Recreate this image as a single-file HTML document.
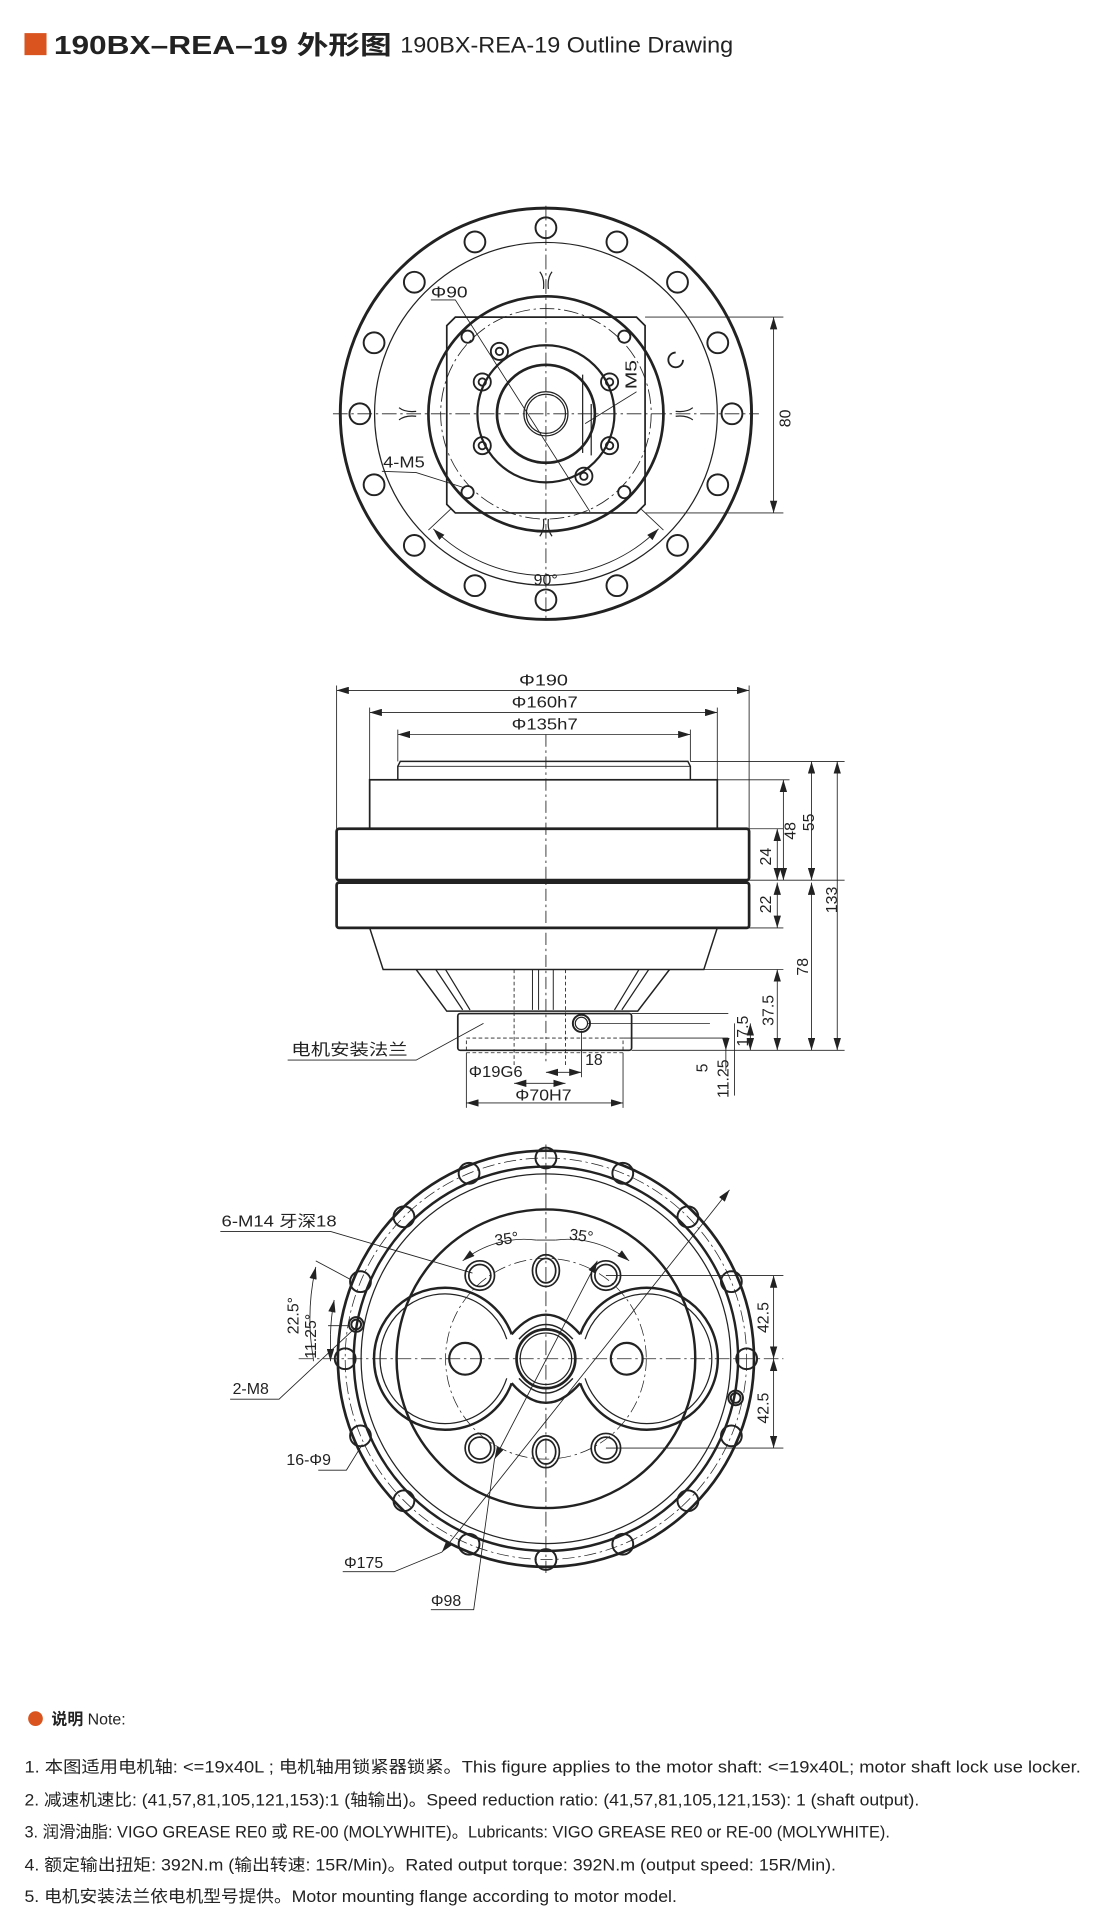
<!DOCTYPE html>
<html><head><meta charset="utf-8"><style>
html,body{margin:0;padding:0;background:#fff}
svg{display:block}
text{font-family:"Liberation Sans","Noto Sans CJK SC",sans-serif;fill:#222}
</style></head><body>
<svg width="1120" height="1928" viewBox="0 0 915 1575" xmlns="http://www.w3.org/2000/svg">
<defs>
<marker id="a" viewBox="0 0 10 6" refX="10" refY="3" markerWidth="10" markerHeight="6" orient="auto-start-reverse" markerUnits="userSpaceOnUse"><path d="M0,0 L10,3 L0,6 z" fill="#222"/></marker>
</defs>
<!-- Title -->
<rect x="20" y="27" width="18" height="18" fill="#d9541e"/>
<text x="44" y="44" font-size="21" font-weight="bold" textLength="276" lengthAdjust="spacingAndGlyphs">190BX–REA–19 外形图</text>
<text x="327" y="43" font-size="18" textLength="272" lengthAdjust="spacingAndGlyphs">190BX-REA-19 Outline Drawing</text>

<g fill="none" stroke="#222" stroke-width="1">
<!-- ============ TOP VIEW ============ -->
<line x1="446" y1="168" x2="446" y2="508" stroke-dasharray="12,3,2,3" stroke-width="0.7"/>
<line x1="272" y1="338" x2="620" y2="338" stroke-dasharray="12,3,2,3" stroke-width="0.7"/>
<circle cx="446" cy="338" r="168" stroke-width="2.4"/>
<circle cx="446" cy="338" r="140"/>
<circle cx="446" cy="338" r="96" stroke-width="2.2"/>
<circle cx="446" cy="338" r="86" stroke-dasharray="12,3,2,3" stroke-width="0.7"/>
<g stroke-width="1.6">
<circle cx="446" cy="186" r="8.5"/><circle cx="504" cy="197.6" r="8.5"/><circle cx="553.5" cy="230.5" r="8.5"/><circle cx="586.4" cy="280" r="8.5"/>
<circle cx="598" cy="338" r="8.5"/><circle cx="586.4" cy="396" r="8.5"/><circle cx="553.5" cy="445.5" r="8.5"/><circle cx="504" cy="478.4" r="8.5"/>
<circle cx="446" cy="490" r="8.5"/><circle cx="388" cy="478.4" r="8.5"/><circle cx="338.5" cy="445.5" r="8.5"/><circle cx="305.6" cy="396" r="8.5"/>
<circle cx="294" cy="338" r="8.5"/><circle cx="305.6" cy="280" r="8.5"/><circle cx="338.5" cy="230.5" r="8.5"/><circle cx="388" cy="197.6" r="8.5"/>
</g>
<path d="M372,259 L520,259 L527,266 L527,412 L520,419 L372,419 L365,412 L365,266 Z" stroke-width="1.4"/>
<circle cx="446" cy="338" r="56" stroke-width="1.8"/>
<circle cx="446" cy="338" r="40" stroke-width="2.2"/>
<circle cx="446" cy="338" r="18"/><circle cx="446" cy="338" r="16"/>
<line x1="476" y1="306" x2="476" y2="370"/><line x1="483" y1="330" x2="483" y2="372"/>
<g stroke-width="1.5">
<circle cx="408" cy="287" r="7"/><circle cx="408" cy="287" r="3"/>
<circle cx="394" cy="312" r="7"/><circle cx="394" cy="312" r="3"/>
<circle cx="498" cy="312" r="7"/><circle cx="498" cy="312" r="3"/>
<circle cx="394" cy="364" r="7"/><circle cx="394" cy="364" r="3"/>
<circle cx="498" cy="364" r="7"/><circle cx="498" cy="364" r="3"/>
<circle cx="477" cy="389" r="7"/><circle cx="477" cy="389" r="3"/>
<circle cx="382" cy="275" r="5"/><circle cx="510" cy="275" r="5"/><circle cx="382" cy="402" r="5"/><circle cx="510" cy="402" r="5"/>
</g>
<path d="M552,288 a6,6 0 1 0 6,6" stroke-width="1.5"/>
<!-- cross marks -->
<path d="M441,222 q4,5 3,14 M451,222 q-4,5 -3,14 M441,438 q4,-5 3,-14 M451,438 q-4,-5 -3,-14 M326,333 q5,4 14,3 M326,343 q5,-4 14,-3 M566,333 q-5,4 -14,3 M566,343 q-5,-4 -14,-3"/>
<!-- leaders -->
<path d="M352,245 L372,245 L482,418" stroke-width="0.7"/>
<path d="M478,346 L520,320" stroke-width="0.7"/>
<path d="M312,385 L340,386 L378,398" stroke-width="0.7"/>
<!-- 80 dim -->
<line x1="527" y1="259" x2="640" y2="259" stroke-width="0.7"/><line x1="527" y1="419" x2="640" y2="419" stroke-width="0.7"/>
<line x1="632" y1="259" x2="632" y2="419" stroke-width="0.7" marker-start="url(#a)" marker-end="url(#a)"/>
<!-- 90 deg arc -->
<path d="M354,432 A130,130 0 0 0 538,432" stroke-width="0.7" marker-start="url(#a)" marker-end="url(#a)"/>
<line x1="350" y1="433" x2="368" y2="416" stroke-width="0.7"/><line x1="542" y1="433" x2="524" y2="416" stroke-width="0.7"/>

<!-- ============ SIDE VIEW ============ -->
<line x1="446" y1="600" x2="446" y2="870" stroke-dasharray="10,3,2,3" stroke-width="0.7"/>
<path d="M327,622 L562,622 L564,626 L564,637 L325,637 L325,626 Z" stroke-width="1.2"/>
<line x1="325" y1="626" x2="564" y2="626" stroke-width="0.7"/>
<rect x="302" y="637" width="284" height="40" stroke-width="1.4"/>
<rect x="275" y="677" width="337" height="42" rx="2" stroke-width="2.2"/>
<rect x="275" y="721" width="337" height="37" rx="2" stroke-width="2.2"/>
<path d="M302,758 L313,792 L575,792 L586,758" stroke-width="1.2"/>
<path d="M340,792 L365,826 L521,826 L547,792" stroke-width="1.2"/>
<path d="M356,792 L378,825 M364,792 L384,825 M530,792 L508,825 M522,792 L502,825" stroke-width="1"/>
<path d="M435,792 L435,825 M440,792 L440,825 M452,792 L452,825" stroke-width="0.8"/>
<line x1="420" y1="792" x2="420" y2="870" stroke-dasharray="3,2" stroke-width="0.7"/>
<line x1="462" y1="792" x2="462" y2="870" stroke-dasharray="3,2" stroke-width="0.7"/>
<rect x="374" y="828" width="142" height="30" rx="2" stroke-width="1.4"/>
<rect x="381" y="848" width="128" height="12" stroke-dasharray="3,2" stroke-width="0.7"/>
<circle cx="475" cy="836" r="7" stroke-width="1.6"/><circle cx="475" cy="836" r="5"/>
<!-- diameter dims -->
<line x1="275" y1="560" x2="275" y2="677" stroke-width="0.7"/><line x1="612" y1="560" x2="612" y2="677" stroke-width="0.7"/>
<line x1="275" y1="564" x2="612" y2="564" stroke-width="0.7" marker-start="url(#a)" marker-end="url(#a)"/>
<line x1="302" y1="578" x2="302" y2="637" stroke-width="0.7"/><line x1="586" y1="578" x2="586" y2="637" stroke-width="0.7"/>
<line x1="302" y1="582" x2="586" y2="582" stroke-width="0.7" marker-start="url(#a)" marker-end="url(#a)"/>
<line x1="325" y1="596" x2="325" y2="622" stroke-width="0.7"/><line x1="564" y1="596" x2="564" y2="622" stroke-width="0.7"/>
<line x1="325" y1="600" x2="564" y2="600" stroke-width="0.7" marker-start="url(#a)" marker-end="url(#a)"/>
<!-- right vertical dims -->
<g stroke-width="0.7">
<line x1="564" y1="622" x2="690" y2="622"/><line x1="586" y1="637" x2="645" y2="637"/>
<line x1="612" y1="677" x2="640" y2="677"/><line x1="612" y1="719" x2="690" y2="719"/>
<line x1="612" y1="758" x2="640" y2="758"/><line x1="575" y1="792" x2="640" y2="792"/>
<line x1="516" y1="828" x2="595" y2="828"/><line x1="480" y1="836" x2="580" y2="836"/>
<line x1="509" y1="848" x2="595" y2="848"/><line x1="516" y1="858" x2="690" y2="858"/>
<line x1="640" y1="637" x2="640" y2="719" marker-start="url(#a)" marker-end="url(#a)"/>
<line x1="663" y1="622" x2="663" y2="719" marker-start="url(#a)" marker-end="url(#a)"/>
<line x1="684" y1="622" x2="684" y2="858" marker-start="url(#a)" marker-end="url(#a)"/>
<line x1="635" y1="677" x2="635" y2="719" marker-start="url(#a)" marker-end="url(#a)"/>
<line x1="635" y1="721" x2="635" y2="758" marker-start="url(#a)" marker-end="url(#a)"/>
<line x1="663" y1="721" x2="663" y2="858" marker-start="url(#a)" marker-end="url(#a)"/>
<line x1="635" y1="792" x2="635" y2="858" marker-start="url(#a)" marker-end="url(#a)"/>
<line x1="613" y1="836" x2="613" y2="858" marker-start="url(#a)" marker-end="url(#a)"/>
<line x1="593" y1="848" x2="593" y2="858" marker-end="url(#a)"/><line x1="593" y1="858" x2="593" y2="875"/>
<line x1="600" y1="836" x2="600" y2="895"/>
<line x1="446" y1="876" x2="475" y2="876" marker-start="url(#a)" marker-end="url(#a)"/>
<line x1="475" y1="842" x2="475" y2="880"/>
<line x1="420" y1="885" x2="462" y2="885" marker-start="url(#a)" marker-end="url(#a)"/>
<line x1="381" y1="860" x2="381" y2="905"/><line x1="509" y1="860" x2="509" y2="905"/>
<line x1="381" y1="901" x2="509" y2="901" marker-start="url(#a)" marker-end="url(#a)"/>
<path d="M235,866 L340,866 L395,836"/>
</g>

<!-- ============ BOTTOM VIEW ============ -->
<line x1="446" y1="935" x2="446" y2="1285" stroke-dasharray="12,3,2,3" stroke-width="0.7"/>
<line x1="244" y1="1110" x2="640" y2="1110" stroke-dasharray="12,3,2,3" stroke-width="0.7"/>
<circle cx="446" cy="1110" r="170" stroke-width="2.2"/>
<circle cx="446" cy="1110" r="157" stroke-width="2"/>
<circle cx="446" cy="1110" r="151"/>
<circle cx="446" cy="1110" r="122" stroke-width="2"/>
<circle cx="446" cy="1110" r="164" stroke-dasharray="10,3,2,3" stroke-width="0.6"/>
<circle cx="446" cy="1110" r="82" stroke-dasharray="10,3,2,3" stroke-width="0.6"/>
<g stroke-width="1.6">
<circle cx="446" cy="946" r="8.5"/><circle cx="508.8" cy="958.5" r="8.5"/><circle cx="562" cy="994" r="8.5"/><circle cx="597.5" cy="1047" r="8.5"/>
<circle cx="610" cy="1110" r="8.5"/><circle cx="597.5" cy="1173" r="8.5"/><circle cx="562" cy="1226" r="8.5"/><circle cx="508.8" cy="1261.5" r="8.5"/>
<circle cx="446" cy="1274" r="8.5"/><circle cx="383.2" cy="1261.5" r="8.5"/><circle cx="330" cy="1226" r="8.5"/><circle cx="294.5" cy="1173" r="8.5"/>
<circle cx="282" cy="1110" r="8.5"/><circle cx="294.5" cy="1047" r="8.5"/><circle cx="330" cy="994" r="8.5"/><circle cx="383.2" cy="958.5" r="8.5"/>
<circle cx="291" cy="1082" r="6"/><circle cx="291" cy="1082" r="4"/>
<circle cx="601" cy="1142" r="6"/><circle cx="601" cy="1142" r="4"/>
</g>
<!-- lobes -->
<path d="M418,1090 A58,58 0 1 0 418,1130" stroke-width="2"/>
<path d="M474,1090 A58,58 0 1 1 474,1130" stroke-width="2"/>
<path d="M414,1094 A53,53 0 1 0 414,1126" stroke-width="1"/>
<path d="M478,1094 A53,53 0 1 1 478,1126" stroke-width="1"/>
<path d="M418,1090 Q446,1058 474,1090" stroke-width="2"/><path d="M418,1130 Q446,1162 474,1130" stroke-width="2"/>
<path d="M424,1094 Q446,1070 468,1094" stroke-width="1.2"/><path d="M424,1126 Q446,1150 468,1126" stroke-width="1.2"/>
<circle cx="446" cy="1110" r="24" stroke-width="2.2"/><circle cx="446" cy="1110" r="21"/>
<circle cx="380" cy="1110" r="13" stroke-width="1.8"/><circle cx="512" cy="1110" r="13" stroke-width="1.8"/>
<g stroke-width="1.4">
<ellipse cx="392" cy="1042" rx="12" ry="12"/><ellipse cx="392" cy="1042" rx="9" ry="9"/>
<ellipse cx="446" cy="1038" rx="11" ry="13"/><ellipse cx="446" cy="1038" rx="8" ry="10"/>
<ellipse cx="495" cy="1042" rx="12" ry="12"/><ellipse cx="495" cy="1042" rx="9" ry="9"/>
<ellipse cx="392" cy="1183" rx="12" ry="12"/><ellipse cx="392" cy="1183" rx="9" ry="9"/>
<ellipse cx="446" cy="1186" rx="11" ry="13"/><ellipse cx="446" cy="1186" rx="8" ry="10"/>
<ellipse cx="495" cy="1183" rx="12" ry="12"/><ellipse cx="495" cy="1183" rx="9" ry="9"/>
</g>
<g stroke-width="0.7">
<!-- 42.5 dims -->
<line x1="495" y1="1042" x2="640" y2="1042"/><line x1="495" y1="1183" x2="640" y2="1183"/>
<line x1="632" y1="1042" x2="632" y2="1110" marker-start="url(#a)" marker-end="url(#a)"/>
<line x1="632" y1="1110" x2="632" y2="1183" marker-start="url(#a)" marker-end="url(#a)"/>
<!-- 35 deg arc -->
<path d="M378,1030 A80,80 0 0 1 438,1013" marker-start="url(#a)"/>
<path d="M454,1013 A80,80 0 0 1 514,1030" marker-end="url(#a)"/>
<line x1="438" y1="1013" x2="454" y2="1013"/>
<!-- diameter leaders -->
<line x1="596" y1="972" x2="361" y2="1268" marker-start="url(#a)" marker-end="url(#a)"/>
<path d="M280,1284 L322,1284 L361,1268"/>
<line x1="488" y1="1030" x2="404" y2="1192" marker-start="url(#a)" marker-end="url(#a)"/>
<path d="M352,1315 L387,1315 L404,1192"/>
<path d="M180,1006 L270,1006 L386,1040"/>
<path d="M188,1143 L228,1143 L290,1085"/>
<path d="M260,1201 L283,1201 L296,1180"/>
<!-- angle dims left -->
<path d="M258,1035 A190,190 0 0 0 256,1110" marker-start="url(#a)"/>
<line x1="256" y1="1110" x2="256" y2="1112"/>
<line x1="258" y1="1030" x2="286" y2="1045"/>
<path d="M273,1062 A175,175 0 0 0 270,1090" marker-start="url(#a)"/>
<line x1="270" y1="1090" x2="270" y2="1112" marker-end="url(#a)"/>
<line x1="268" y1="1083" x2="284" y2="1083"/>
</g>
</g>

<!-- labels -->
<g font-size="13">
<text x="352" y="243" textLength="30" lengthAdjust="spacingAndGlyphs">Φ90</text>
<text transform="translate(520,318) rotate(-90)" textLength="24" lengthAdjust="spacingAndGlyphs">M5</text>
<text x="313" y="382" textLength="34" lengthAdjust="spacingAndGlyphs">4-M5</text>
<text transform="translate(646,349) rotate(-90)">80</text>
<text x="436" y="478">90°</text>
<text x="424" y="560" textLength="40" lengthAdjust="spacingAndGlyphs">Φ190</text>
<text x="418" y="578" textLength="54" lengthAdjust="spacingAndGlyphs">Φ160h7</text>
<text x="418" y="596" textLength="54" lengthAdjust="spacingAndGlyphs">Φ135h7</text>
<text transform="translate(650,686) rotate(-90)">48</text>
<text transform="translate(665,679) rotate(-90)">55</text>
<text transform="translate(630,707) rotate(-90)">24</text>
<text transform="translate(630,746) rotate(-90)">22</text>
<text transform="translate(684,746) rotate(-90)">133</text>
<text transform="translate(660,797) rotate(-90)">78</text>
<text transform="translate(632,838) rotate(-90)">37.5</text>
<text transform="translate(611,855) rotate(-90)">17.5</text>
<text transform="translate(578,876) rotate(-90)">5</text>
<text transform="translate(595,897) rotate(-90)">11.25</text>
<text x="478" y="870">18</text>
<text x="383" y="880" textLength="44" lengthAdjust="spacingAndGlyphs">Φ19G6</text>
<text x="421" y="899" textLength="46" lengthAdjust="spacingAndGlyphs">Φ70H7</text>
<text x="238" y="862" textLength="95" lengthAdjust="spacingAndGlyphs">电机安装法兰</text>
<text x="181" y="1002" textLength="94" lengthAdjust="spacingAndGlyphs">6-M14 牙深18</text>
<text x="404" y="1016" transform="rotate(-8 416 1012)">35°</text>
<text x="465" y="1014" transform="rotate(8 476 1010)">35°</text>
<text transform="translate(244,1090) rotate(-90)">22.5°</text>
<text transform="translate(258,1110) rotate(-90)">11.25°</text>
<text x="190" y="1139">2-M8</text>
<text x="234" y="1197">16-Φ9</text>
<text x="281" y="1281">Φ175</text>
<text x="352" y="1312">Φ98</text>
<text transform="translate(628,1089) rotate(-90)">42.5</text>
<text transform="translate(628,1163) rotate(-90)">42.5</text>
</g>

<!-- notes -->
<circle cx="29" cy="1404" r="6" fill="#d9541e"/>
<text x="42" y="1409" font-size="13"><tspan font-weight="bold">说明</tspan> Note:</text>
<g font-size="13.5">
<text x="20" y="1448" textLength="863" lengthAdjust="spacingAndGlyphs">1. 本图适用电机轴: &lt;=19x40L ; 电机轴用锁紧器锁紧。This figure applies to the motor shaft: &lt;=19x40L; motor shaft lock use locker.</text>
<text x="20" y="1475" textLength="731" lengthAdjust="spacingAndGlyphs">2. 减速机速比: (41,57,81,105,121,153):1 (轴输出)。Speed reduction ratio: (41,57,81,105,121,153): 1 (shaft output).</text>
<text x="20" y="1501" textLength="707" lengthAdjust="spacingAndGlyphs">3. 润滑油脂: VIGO GREASE RE0 或 RE-00 (MOLYWHITE)。Lubricants: VIGO GREASE RE0 or RE-00 (MOLYWHITE).</text>
<text x="20" y="1528" textLength="663" lengthAdjust="spacingAndGlyphs">4. 额定输出扭矩: 392N.m (输出转速: 15R/Min)。Rated output torque: 392N.m (output speed: 15R/Min).</text>
<text x="20" y="1554" textLength="533" lengthAdjust="spacingAndGlyphs">5. 电机安装法兰依电机型号提供。Motor mounting flange according to motor model.</text>
</g>
</svg>
</body></html>
